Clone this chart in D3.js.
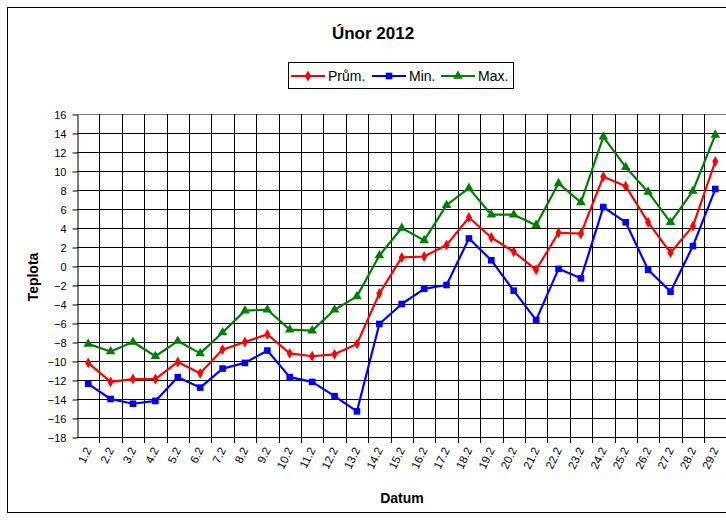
<!DOCTYPE html>
<html>
<head>
<meta charset="utf-8">
<script src="https://cdn.jsdelivr.net/npm/d3@7"></script>
<style>
  html, body { margin: 0; padding: 0; background: #fff; }
  svg { display: block; font-family: "Liberation Sans", Arial, sans-serif; }
</style>
</head>
<body>
<svg id="chart" width="726" height="520"></svg>
<script>
const categories = ["1.2","2.2","3.2","4.2","5.2","6.2","7.2","8.2","9.2","10.2","11.2","12.2","13.2","14.2","15.2","16.2","17.2","18.2","19.2","20.2","21.2","22.2","23.2","24.2","25.2","26.2","27.2","28.2","29.2"];
const prum = [-10.2,-12.2,-11.9,-11.9,-10.1,-11.3,-8.8,-8.0,-7.2,-9.2,-9.5,-9.3,-8.2,-2.9,0.9,1.0,2.2,5.1,3.0,1.5,-0.4,3.5,3.4,9.4,8.4,4.6,1.4,4.2,11.0];
const minT = [-12.4,-14.0,-14.5,-14.2,-11.7,-12.8,-10.8,-10.2,-8.9,-11.7,-12.2,-13.7,-15.3,-6.1,-4.0,-2.4,-2.0,2.9,0.6,-2.6,-5.7,-0.3,-1.3,6.2,4.6,-0.4,-2.7,2.1,8.1];
const maxT = [-8.2,-9.0,-8.0,-9.5,-7.9,-9.2,-7.0,-4.7,-4.6,-6.7,-6.8,-4.6,-3.2,1.1,4.0,2.7,6.4,8.2,5.4,5.4,4.3,8.7,6.7,13.6,10.4,7.8,4.6,7.9,13.8];
const yTicks = [-18,-16,-14,-12,-10,-8,-6,-4,-2,0,2,4,6,8,10,12,14,16];
const seriesNames = ["Prům.","Min.","Max."];
const title = "Únor 2012";
const yTitle = "Teplota";
const xTitle = "Datum";

const series = [
  {name: seriesNames[0], values: prum, color: "#ff0000", symbol: d3.symbolDiamond, size: 34},
  {name: seriesNames[1], values: minT, color: "#0000ff", symbol: d3.symbolSquare, size: 44},
  {name: seriesNames[2], values: maxT, color: "#008000", symbol: d3.symbolTriangle, size: 40}
];

const svg = d3.select("#chart");
const L = 77, R = 726.5, T = 114, B = 437;

const x = d3.scaleBand().domain(categories).range([L, R]).padding(0);
const y = d3.scaleLinear().domain([-18, 16]).range([B, T]);
const cx = d => x(d) + x.bandwidth() / 2;

// outer chart border
svg.append("rect").attr("x", 7.5).attr("y", 7.5).attr("width", 740).attr("height", 505)
  .attr("fill", "none").attr("stroke", "#000").attr("stroke-width", 1);

// gridlines
const grid = svg.append("g");
grid.selectAll("line.h").data(yTicks).join("line")
  .attr("x1", L).attr("x2", R)
  .attr("y1", d => Math.round(y(d)) + 0.5).attr("y2", d => Math.round(y(d)) + 0.5)
  .attr("stroke", d => d === 16 ? "#808080" : "#000").attr("stroke-width", 1);
grid.selectAll("line.v").data(categories.slice(1)).join("line")
  .attr("x1", d => Math.round(x(d)) + 0.5).attr("x2", d => Math.round(x(d)) + 0.5)
  .attr("y1", T).attr("y2", B)
  .attr("stroke", "#000").attr("stroke-width", 1);

// y axis
const yAxis = svg.append("g").attr("transform", `translate(${L + 0.5},0.5)`)
  .call(d3.axisLeft(y).tickValues(yTicks).tickSize(5).tickPadding(6).tickSizeOuter(0));
yAxis.select(".domain").attr("stroke", "#000");
yAxis.selectAll("text").attr("font-size", 11).attr("fill", "#000")
  .attr("font-family", "'Liberation Sans', Arial, sans-serif");

// x axis line + boundary ticks
svg.append("line").attr("x1", L).attr("x2", R).attr("y1", B + 0.5).attr("y2", B + 0.5).attr("stroke", "#000");
svg.append("g").selectAll("line").data(categories.slice(1)).join("line")
  .attr("x1", d => Math.round(x(d)) + 0.5).attr("x2", d => Math.round(x(d)) + 0.5)
  .attr("y1", B).attr("y2", B + 6).attr("stroke", "#000");

// x labels
const xAxis = svg.append("g").attr("transform", `translate(0,${B})`)
  .call(d3.axisBottom(x).tickSize(0).tickPadding(0));
xAxis.select(".domain").remove();
xAxis.selectAll("text")
  .attr("font-size", 11.5).attr("fill", "#000")
  .attr("font-family", "'Liberation Sans', Arial, sans-serif")
  .attr("text-anchor", "end")
  .attr("dy", "0.35em")
  .attr("transform", "translate(0,11) rotate(-64)");

// lines and markers
series.forEach(s => {
  const line = d3.line().x((v, i) => cx(categories[i])).y(v => y(v));
  svg.append("path").datum(s.values).attr("d", line)
    .attr("fill", "none").attr("stroke", s.color).attr("stroke-width", 2.2)
    .attr("stroke-linejoin", "round");
  svg.append("g").selectAll("path").data(s.values).join("path")
    .attr("d", d3.symbol().type(s.symbol).size(s.size))
    .attr("transform", (v, i) => `translate(${cx(categories[i])},${y(v)})`)
    .attr("fill", s.color);
});

// title
svg.append("text").attr("x", 373).attr("y", 39).attr("text-anchor", "middle")
  .attr("font-size", 17).attr("font-weight", "bold").text(title);

// axis titles
svg.append("text").attr("x", 402).attr("y", 503).attr("text-anchor", "middle")
  .attr("font-size", 14).attr("font-weight", "bold").text(xTitle);
svg.append("text").attr("transform", "translate(38,277) rotate(-90)").attr("text-anchor", "middle")
  .attr("font-size", 14).attr("font-weight", "bold").text(yTitle);

// legend
const lg = svg.append("g");
lg.append("rect").attr("x", 288.5).attr("y", 62.5).attr("width", 225).attr("height", 26)
  .attr("fill", "#fff").attr("stroke", "#000");
const legendX = [291, 372, 441];
series.forEach((s, i) => {
  const g = lg.append("g").attr("transform", `translate(${legendX[i]},76)`);
  g.append("line").attr("x1", 0).attr("x2", 34).attr("y1", 0).attr("y2", 0)
    .attr("stroke", s.color).attr("stroke-width", 2.2);
  g.append("path").attr("d", d3.symbol().type(s.symbol).size(s.size)).attr("transform", "translate(17,0)")
    .attr("fill", s.color);
  g.append("text").attr("x", 37).attr("y", 5).attr("font-size", 14).text(s.name);
});
</script>
</body>
</html>
